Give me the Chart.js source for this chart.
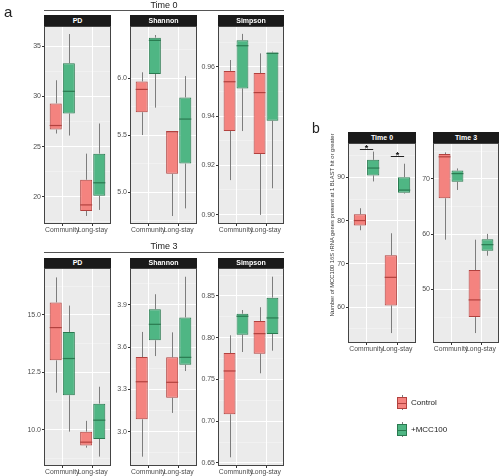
<!DOCTYPE html>
<html>
<head>
<meta charset="utf-8">
<script src="https://cdn.jsdelivr.net/npm/chart.js@4.4.0/dist/chart.umd.min.js"></script>
<style>
  body { margin: 0; width: 500px; height: 476px; overflow: hidden; background: #fff; position: relative;
         font-family: "Liberation Sans", Arial, sans-serif; }
  canvas { position: absolute; }
  .strip { position: absolute; background: #1a1a1a; color: #fff; font-weight: bold; font-size: 7px;
           text-align: center; z-index: 2; }
  .txt { position: absolute; color: #222; white-space: nowrap; z-index: 2; }
  .rule { position: absolute; height: 1px; background: #555; z-index: 2; }
  .key { position: absolute; box-sizing: border-box; z-index: 2; }
</style>
</head>
<body>
<script>
// categories on the x axis of every panel
const categories = ['Community', 'Long-stay'];

// each entry: [lower whisker, Q1, median, Q3, upper whisker]
const pdT0Control = [[26.3, 26.7, 27.1, 29.3, 31.6], [18.1, 18.6, 19.2, 21.7, 24.3]];
const pdT0Mcc100 = [[26.1, 28.3, 30.5, 33.3, 36.2], [18.7, 20.1, 21.4, 24.3, 27.3]];
const shannonT0Control = [[5.50, 5.70, 5.90, 5.97, 6.05], [4.79, 5.16, 5.53, 5.53, 5.53]];
const shannonT0Mcc100 = [[5.74, 6.035, 6.33, 6.354, 6.377], [4.857, 5.25, 5.64, 5.83, 6.017]];
const simpsonT0Control = [[0.914, 0.9339, 0.9539, 0.9583, 0.9627], [0.8999, 0.9246, 0.9495, 0.9574, 0.9654]];
const simpsonT0Mcc100 = [[0.9339, 0.9512, 0.9685, 0.9707, 0.9733], [0.9107, 0.9381, 0.9654, 0.9658, 0.9661]];

const pdT3Control = [[11.61, 13.02, 14.45, 15.55, 16.64], [9.21, 9.30, 9.45, 9.91, 10.38]];
const pdT3Mcc100 = [[9.91, 11.5, 13.1, 14.26, 15.41], [8.82, 9.59, 10.41, 11.13, 11.87]];
const shannonT3Control = [[2.823, 3.088, 3.354, 3.529, 3.707], [3.133, 3.241, 3.35, 3.527, 3.704]];
const shannonT3Mcc100 = [[3.536, 3.648, 3.761, 3.867, 3.974], [3.43, 3.475, 3.527, 3.81, 4.098]];
const simpsonT3Control = [[0.6568, 0.7083, 0.7602, 0.7817, 0.8029], [0.7574, 0.7809, 0.8049, 0.82, 0.8365]];
const simpsonT3Mcc100 = [[0.7829, 0.8037, 0.8257, 0.8288, 0.8332], [0.7845, 0.8045, 0.8237, 0.848, 0.8731]];

const blastT0Control = [[77.8, 78.9, 80.05, 81.5, 82.9], [54.0, 60.4, 66.9, 72.0, 77.1]];
const blastT0Mcc100 = [[89.1, 90.5, 92.2, 94.1, 96.0], [86.3, 86.5, 87.1, 90.1, 93.2]];
const blastT3Control = [[59.0, 66.5, 74.0, 74.5, 74.8], [42.1, 45.0, 48.1, 53.5, 59.0]];
const blastT3Mcc100 = [[68.0, 69.5, 70.96, 71.5, 71.9], [56.1, 57.0, 58.1, 59.1, 60.05]];
// height of the significance bars (Time 0 panel of b)
const blastT0SigY = [96.6, 95.0];

// y tick labels (major) and minor grid lines
const pdT0Ticks = [20, 25, 30, 35], pdT0Minor = [17.5, 22.5, 27.5, 32.5];
const shannonT0Ticks = [5.0, 5.5, 6.0], shannonT0Minor = [4.75, 5.25, 5.75, 6.25];
const simpsonT0Ticks = [0.90, 0.92, 0.94, 0.96], simpsonT0Minor = [0.91, 0.93, 0.95, 0.97];
const pdT3Ticks = [10, 12.5, 15], pdT3Minor = [8.75, 11.25, 13.75, 16.25];
const shannonT3Ticks = [3.0, 3.3, 3.6, 3.9], shannonT3Minor = [2.85, 3.15, 3.45, 3.75, 4.05];
const simpsonT3Ticks = [0.65, 0.70, 0.75, 0.80, 0.85], simpsonT3Minor = [0.675, 0.725, 0.775, 0.825, 0.875];
const blastT0Ticks = [60, 70, 80, 90], blastT0Minor = [55, 65, 75, 85, 95];
const blastT3Ticks = [50, 60, 70], blastT3Minor = [45, 55, 65, 75];

const CONTROL_FILL = '#F4837F', CONTROL_LINE = '#B2413E';
const MCC_FILL = '#4FB684', MCC_LINE = '#2A7A50';

Chart.defaults.font.family = '"Liberation Sans", Arial, sans-serif';
Chart.defaults.font.size = 7;
Chart.defaults.color = '#4D4D4D';

const YW = 30, XH = 11, PAD_T = 8, PAD_R = 3;

const panelBg = {
  id: 'panelBg',
  beforeDraw(chart) {
    const a = chart.chartArea, ctx = chart.ctx;
    ctx.save();
    ctx.fillStyle = '#EBEBEB';
    ctx.fillRect(a.left, a.top, a.right - a.left, a.bottom - a.top);
    ctx.restore();
  },
  afterDraw(chart) {
    const a = chart.chartArea, ctx = chart.ctx;
    ctx.save();
    ctx.strokeStyle = '#444';
    ctx.lineWidth = 1;
    ctx.strokeRect(a.left + 0.5, a.top + 0.5, a.right - a.left - 1, a.bottom - a.top - 1);
    ctx.restore();
  }
};

// whiskers, medians and significance marks
const boxParts = {
  id: 'boxParts',
  afterDatasetsDraw(chart) {
    const ctx = chart.ctx, y = chart.scales.y;
    chart.data.datasets.forEach((ds, di) => {
      chart.getDatasetMeta(di).data.forEach((bar, i) => {
        const s = ds.stats[i];
        const bx = Math.round(bar.x) + 0.5;
        ctx.save();
        ctx.strokeStyle = '#7d7d7d';
        ctx.lineWidth = 1;
        ctx.beginPath();
        ctx.moveTo(bx, y.getPixelForValue(s[4]));
        ctx.lineTo(bx, y.getPixelForValue(s[3]));
        ctx.moveTo(bx, y.getPixelForValue(s[1]));
        ctx.lineTo(bx, y.getPixelForValue(s[0]));
        ctx.stroke();
        const m = y.getPixelForValue(s[2]);
        ctx.strokeStyle = ds.borderColor;
        ctx.lineWidth = 1.2;
        ctx.beginPath();
        ctx.moveTo(bar.x - bar.width / 2, m);
        ctx.lineTo(bar.x + bar.width / 2, m);
        ctx.stroke();
        ctx.restore();
      });
    });
    const sig = chart.options.plugins.boxParts && chart.options.plugins.boxParts.sig;
    if (sig) {
      const ds0 = chart.getDatasetMeta(0).data, ds1 = chart.getDatasetMeta(1).data;
      sig.forEach((v, i) => {
        const py = Math.round(y.getPixelForValue(v)) + 0.5;
        ctx.save();
        ctx.strokeStyle = '#222';
        ctx.lineWidth = 1;
        ctx.beginPath();
        ctx.moveTo(ds0[i].x, py);
        ctx.lineTo(ds1[i].x, py);
        ctx.stroke();
        ctx.fillStyle = '#111';
        ctx.font = 'bold 9px "Liberation Sans", Arial, sans-serif';
        ctx.textAlign = 'center';
        ctx.fillText('*', (ds0[i].x + ds1[i].x) / 2, py + 1.5);
        ctx.restore();
      });
    }
  }
};

function makePanel(p) {
  const cv = document.createElement('canvas');
  const w = YW + p.w + PAD_R, h = PAD_T + p.h + XH;
  cv.width = w; cv.height = h;
  cv.style.left = (p.left - YW) + 'px';
  cv.style.top = (p.top - PAD_T) + 'px';
  cv.style.width = w + 'px'; cv.style.height = h + 'px';
  document.body.appendChild(cv);

  const strip = document.createElement('div');
  strip.className = 'strip';
  strip.style.left = p.left + 'px';
  strip.style.top = (p.top - p.stripH) + 'px';
  strip.style.width = p.w + 'px';
  strip.style.height = p.stripH + 'px';
  strip.style.lineHeight = p.stripH + 'px';
  strip.textContent = p.title;
  document.body.appendChild(strip);

  const yTicks = p.ticks.map(v => ({ value: v, minor: false }))
    .concat(p.minor.filter(v => v >= p.ymin && v <= p.ymax).map(v => ({ value: v, minor: true })))
    .sort((a, b) => a.value - b.value);

  new Chart(cv, {
    type: 'bar',
    data: {
      datasets: [
        { label: 'Control', data: p.control.map((s, i) => ({ x: i + 1, y: [s[1], s[3]] })), stats: p.control,
          backgroundColor: CONTROL_FILL, borderColor: CONTROL_LINE, borderWidth: 1, borderSkipped: false },
        { label: '+MCC100', data: p.mcc.map((s, i) => ({ x: i + 1, y: [s[1], s[3]] })), stats: p.mcc,
          backgroundColor: MCC_FILL, borderColor: MCC_LINE, borderWidth: 1, borderSkipped: false }
      ]
    },
    options: {
      responsive: false,
      animation: false,
      layout: { padding: { top: PAD_T, right: PAD_R, bottom: 0, left: 0 } },
      categoryPercentage: 0.86,
      barPercentage: 0.92,
      plugins: { legend: { display: false }, tooltip: { enabled: false }, boxParts: { sig: p.sig } },
      scales: {
        x: {
          type: 'linear', min: 0.4, max: 2.6, offset: false,
          afterBuildTicks: s => { s.ticks = [{ value: 1 }, { value: 2 }]; },
          afterFit: s => { s.height = XH; },
          ticks: { autoSkip: false, maxRotation: 0, minRotation: 0, padding: 0, font: { size: 6.8 },
                   callback: v => categories[v - 1] || '' },
          grid: { offset: false, color: '#fff', lineWidth: 1, tickLength: 2, tickColor: '#333' },
          border: { display: false }
        },
        y: {
          type: 'linear', min: p.ymin, max: p.ymax,
          afterBuildTicks: s => { s.ticks = yTicks.map(t => Object.assign({}, t)); },
          afterFit: s => { s.width = YW; },
          ticks: { autoSkip: false, padding: 1,
                   callback: (v, i, t) => t[i].minor ? '' : v.toFixed(p.dec) },
          grid: {
            color: c => c.tick && c.tick.minor ? 'rgba(255,255,255,0.6)' : '#fff',
            lineWidth: c => c.tick && c.tick.minor ? 0.5 : 1,
            tickLength: 2,
            tickColor: c => c.tick && c.tick.minor ? 'rgba(0,0,0,0)' : '#333'
          },
          border: { display: false }
        }
      }
    },
    plugins: [panelBg, boxParts]
  });
}

const panels = [
  { title: 'PD', left: 44, top: 26, w: 67, h: 198, stripH: 11, ymin: 17.3, ymax: 37.0, dec: 0,
    ticks: pdT0Ticks, minor: pdT0Minor, control: pdT0Control, mcc: pdT0Mcc100 },
  { title: 'Shannon', left: 130, top: 26, w: 67, h: 198, stripH: 11, ymin: 4.72, ymax: 6.456, dec: 1,
    ticks: shannonT0Ticks, minor: shannonT0Minor, control: shannonT0Control, mcc: shannonT0Mcc100 },
  { title: 'Simpson', left: 218, top: 26, w: 66, h: 198, stripH: 11, ymin: 0.8962, ymax: 0.9765, dec: 2,
    ticks: simpsonT0Ticks, minor: simpsonT0Minor, control: simpsonT0Control, mcc: simpsonT0Mcc100 },
  { title: 'PD', left: 44, top: 268, w: 67, h: 198, stripH: 10, ymin: 8.41, ymax: 17.05, dec: 1,
    ticks: pdT3Ticks, minor: pdT3Minor, control: pdT3Control, mcc: pdT3Mcc100 },
  { title: 'Shannon', left: 130, top: 268, w: 67, h: 198, stripH: 10, ymin: 2.757, ymax: 4.16, dec: 1,
    ticks: shannonT3Ticks, minor: shannonT3Minor, control: shannonT3Control, mcc: shannonT3Mcc100 },
  { title: 'Simpson', left: 218, top: 268, w: 66, h: 198, stripH: 10, ymin: 0.6464, ymax: 0.8835, dec: 2,
    ticks: simpsonT3Ticks, minor: simpsonT3Minor, control: simpsonT3Control, mcc: simpsonT3Mcc100 },
  { title: 'Time 0', left: 348, top: 143, w: 68, h: 200, stripH: 11, ymin: 51.7, ymax: 98.0, dec: 0,
    ticks: blastT0Ticks, minor: blastT0Minor, control: blastT0Control, mcc: blastT0Mcc100, sig: blastT0SigY },
  { title: 'Time 3', left: 433, top: 143, w: 66, h: 200, stripH: 11, ymin: 40.3, ymax: 76.5, dec: 0,
    ticks: blastT3Ticks, minor: blastT3Minor, control: blastT3Control, mcc: blastT3Mcc100 }
];
panels.forEach(makePanel);

// labels, rules and legend
function addDiv(cls, style, text) {
  const d = document.createElement('div');
  d.className = cls;
  Object.assign(d.style, style);
  if (text) d.textContent = text;
  document.body.appendChild(d);
  return d;
}
addDiv('txt', { left: '4px', top: '3px', fontSize: '15px' }, 'a');
addDiv('txt', { left: '312px', top: '120px', fontSize: '14px' }, 'b');
addDiv('txt', { left: '44px', width: '240px', top: '0px', fontSize: '9px', textAlign: 'center' }, 'Time 0');
addDiv('rule', { left: '44px', width: '240px', top: '10px' });
addDiv('txt', { left: '44px', width: '240px', top: '241px', fontSize: '9px', textAlign: 'center' }, 'Time 3');
addDiv('rule', { left: '44px', width: '240px', top: '252px' });
addDiv('txt', { left: '332px', top: '225px', fontSize: '5.8px', color: '#333',
  transform: 'translate(-50%, -50%) rotate(-90deg)' },
  'Number of MCC100 16S rRNA genes present at 1 BLAST hit or greater');

function legendKey(top, fill, line, label) {
  addDiv('key', { left: '401.5px', top: top + 'px', width: '1px', height: '15px', background: '#7d7d7d' });
  addDiv('key', { left: '397px', top: (top + 2) + 'px', width: '10px', height: '12px', background: fill,
    border: '1px solid ' + line });
  addDiv('key', { left: '397px', top: (top + 7.5) + 'px', width: '10px', height: '1px', background: line });
  addDiv('txt', { left: '411px', top: (top + 3) + 'px', fontSize: '8px', color: '#222' }, label);
}
legendKey(395, CONTROL_FILL, CONTROL_LINE, 'Control');
legendKey(422, MCC_FILL, MCC_LINE, '+MCC100');
</script>
</body>
</html>
